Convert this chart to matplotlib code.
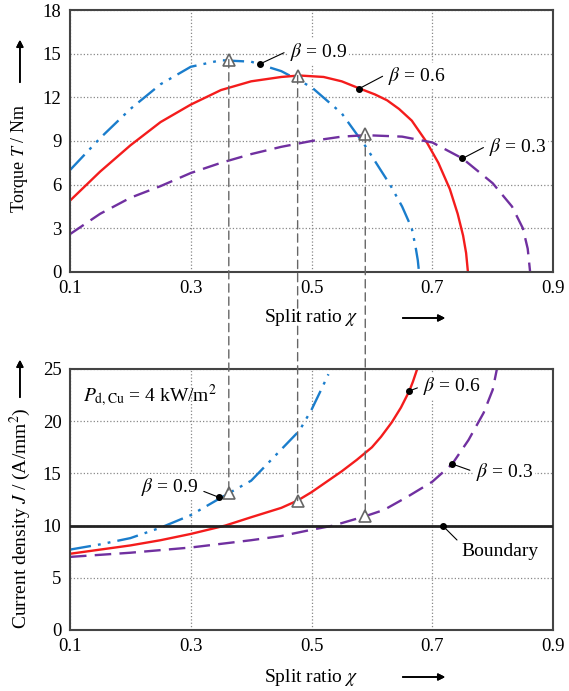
import numpy as np
import matplotlib.pyplot as plt
from matplotlib.patches import ConnectionPatch

plt.rcParams['font.family'] = ['Liberation Serif', 'DejaVu Serif']
plt.rcParams['mathtext.fontset'] = 'stix'

# Torque vs split ratio
chi_t09 = [0.10, 0.15, 0.20, 0.25, 0.30, 0.35, 0.40, 0.45, 0.50, 0.55, 0.59, 0.613, 0.63, 0.65, 0.666, 0.672, 0.676, 0.678]
T_09 = [7.0, 9.2, 11.2, 12.9, 14.1, 14.55, 14.45, 13.8, 12.7, 10.9, 8.6, 7.1, 6.0, 4.5, 3.0, 1.8, 0.8, 0.0]
chi_t06 = [0.10, 0.15, 0.20, 0.25, 0.30, 0.35, 0.40, 0.45, 0.48, 0.52, 0.55, 0.58, 0.605, 0.625, 0.645, 0.666, 0.691, 0.71, 0.729, 0.742, 0.751, 0.756, 0.759]
T_06 = [4.9, 6.9, 8.7, 10.3, 11.5, 12.5, 13.1, 13.4, 13.5, 13.4, 13.1, 12.6, 12.2, 11.8, 11.2, 10.4, 8.9, 7.5, 5.7, 4.0, 2.5, 1.3, 0.0]
chi_t03 = [0.10, 0.15, 0.20, 0.25, 0.30, 0.35, 0.40, 0.45, 0.50, 0.55, 0.59, 0.65, 0.70, 0.75, 0.80, 0.832, 0.85, 0.858, 0.862]
T_03 = [2.6, 4.0, 5.1, 5.9, 6.8, 7.5, 8.1, 8.6, 9.0, 9.3, 9.4, 9.3, 8.9, 7.8, 6.1, 4.5, 3.0, 1.6, 0.0]

# Current density vs split ratio
chi_j09 = [0.10, 0.15, 0.20, 0.25, 0.30, 0.363, 0.40, 0.45, 0.48, 0.50, 0.515, 0.528]
J_09 = [7.7, 8.2, 8.8, 9.8, 11.0, 13.1, 14.3, 17.3, 19.1, 21.1, 22.9, 24.5]
chi_j06 = [0.10, 0.15, 0.20, 0.25, 0.30, 0.357, 0.40, 0.45, 0.477, 0.50, 0.52, 0.55, 0.575, 0.60, 0.615, 0.633, 0.648, 0.662, 0.668, 0.675]
J_06 = [7.3, 7.7, 8.1, 8.6, 9.2, 10.0, 10.8, 11.7, 12.4, 13.2, 14.0, 15.2, 16.3, 17.5, 18.5, 19.9, 21.3, 22.9, 23.8, 25.0]
chi_j03 = [0.10, 0.20, 0.30, 0.40, 0.45, 0.50, 0.536, 0.589, 0.62, 0.66, 0.70, 0.733, 0.76, 0.785, 0.80, 0.807]
J_03 = [7.0, 7.4, 7.9, 8.6, 9.0, 9.6, 10.0, 10.9, 11.5, 12.8, 14.2, 15.9, 18.2, 20.8, 23.0, 25.0]

J_boundary = 10

# optimum points (top) and corresponding current density (bottom)
chi_opt = [0.363, 0.477, 0.589]
T_opt = [14.6, 13.5, 9.45]
J_opt = [13.1, 12.4, 10.9]

blue = '#1a7dcc'
red = '#f41c1c'
purple = '#7030a0'
dashdotdot = (0, (9, 3, 1.2, 3, 1.2, 3))
dashed = (0, (7, 3.5))

fig = plt.figure(figsize=(5.69, 6.91), dpi=100)
ax1 = fig.add_axes([0.123, 0.6064, 0.849, 0.3791])
ax2 = fig.add_axes([0.123, 0.0883, 0.849, 0.3777])

for ax in (ax1, ax2):
    ax.set_xlim(0.1, 0.9)
    ax.set_xticks([0.1, 0.3, 0.5, 0.7, 0.9])
    ax.set_xticklabels(['0.1', '0.3', '0.5', '0.7', '0.9'])
    ax.tick_params(length=0, labelsize=13.5, pad=6)
    ax.grid(True, linestyle=':', color='#888888', linewidth=0.9)
    for s in ax.spines.values():
        s.set_color('#444444')
        s.set_linewidth(1.5)

ax1.set_ylim(0, 18)
ax1.set_yticks(np.arange(0, 19, 3))
ax2.set_ylim(0, 25)
ax2.set_yticks(np.arange(0, 26, 5))

lw = 1.7
ax1.plot(chi_t09, T_09, color=blue, lw=lw, linestyle=dashdotdot)
ax1.plot(chi_t06, T_06, color=red, lw=lw)
ax1.plot(chi_t03, T_03, color=purple, lw=lw, linestyle=dashed)

ax2.plot(chi_j09, J_09, color=blue, lw=lw, linestyle=dashdotdot)
ax2.plot(chi_j06, J_06, color=red, lw=lw)
ax2.plot(chi_j03, J_03, color=purple, lw=lw, linestyle=dashed)
ax2.axhline(J_boundary, color='#222222', lw=2.0, zorder=3)

# dashed connectors between the two panels
for c, t, j in zip(chi_opt, T_opt, J_opt):
    con = ConnectionPatch(xyA=(c, t), coordsA=ax1.transData,
                          xyB=(c, j), coordsB=ax2.transData,
                          color='#666666', lw=1.0, linestyle=(0, (6, 3.5)), zorder=1)
    fig.add_artist(con)
ax1.plot(chi_opt, T_opt, linestyle='none', marker='^', ms=8, mfc='white', mec='#666666', mew=1.2, zorder=5)
ax2.plot(chi_opt, J_opt, linestyle='none', marker='^', ms=8, mfc='white', mec='#666666', mew=1.2, zorder=5)


def label(ax, text, pt, txt, ha, relpos):
    ax.plot(*pt, 'o', color='black', ms=4, zorder=6)
    ax.annotate(text, xy=pt, xytext=txt, ha=ha, va='center', fontsize=14,
                bbox=dict(boxstyle='square,pad=0.1', fc='white', ec='none'),
                arrowprops=dict(arrowstyle='-', color='black', lw=0.8,
                                shrinkA=3, shrinkB=0, relpos=relpos),
                zorder=6)


label(ax1, r'$\beta$ = 0.9', (0.415, 14.3), (0.464, 15.1), 'left', (0, 0.6))
label(ax1, r'$\beta$ = 0.6', (0.579, 12.6), (0.627, 13.5), 'left', (0, 0.6))
label(ax1, r'$\beta$ = 0.3', (0.750, 7.8), (0.794, 8.6), 'left', (0, 0.6))

label(ax2, r'$\beta$ = 0.9', (0.347, 12.7), (0.312, 13.7), 'right', (1, 0.4))
label(ax2, r'$\beta$ = 0.6', (0.662, 22.9), (0.685, 23.4), 'left', (0, 0.5))
label(ax2, r'$\beta$ = 0.3', (0.733, 15.9), (0.772, 15.1), 'left', (0, 0.5))
label(ax2, 'Boundary', (0.717, 10.0), (0.749, 7.5), 'left', (0, 0.9))

ax2.text(0.122, 22.5, r'$P_{\mathrm{d,Cu}}$ = 4 kW/m$^2$', fontsize=14, va='center', ha='left')

# axis titles with arrows
arrow = dict(arrowstyle='-|>', color='black', lw=1.2)
fig.text(0.035, 1 - 158 / 691, r'Torque $T$ / Nm', rotation=90, fontsize=13,
         ha='center', va='center')
fig.add_artist(plt.annotate('', xy=(0.035, 1 - 37 / 691), xytext=(0.035, 1 - 85 / 691),
                            xycoords='figure fraction', arrowprops=arrow))
fig.text(0.035, 1 - 518 / 691, r'Current density $J$ / (A/mm$^2$)', rotation=90, fontsize=14,
         ha='center', va='center')
fig.add_artist(plt.annotate('', xy=(0.035, 1 - 357 / 691), xytext=(0.035, 1 - 400 / 691),
                            xycoords='figure fraction', arrowprops=arrow))

for yp in (318, 677):
    fig.text(311 / 569, 1 - yp / 691, r'Split ratio $\chi$', fontsize=14, ha='center', va='center')
    fig.add_artist(plt.annotate('', xy=(448 / 569, 1 - yp / 691), xytext=(400 / 569, 1 - yp / 691),
                                xycoords='figure fraction', arrowprops=arrow))

fig.savefig('out.png', dpi=100)
